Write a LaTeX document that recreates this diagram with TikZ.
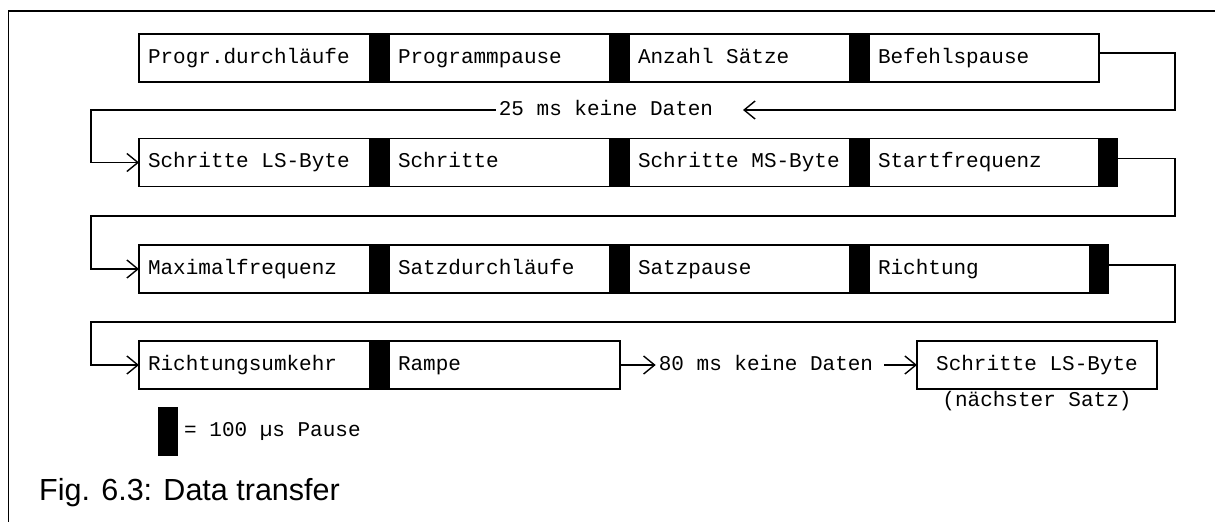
\documentclass[tikz,border=0pt]{standalone}
\usepackage{fontspec}
\setmainfont{Liberation Sans}
\newfontfamily\dotfont[WordSpace={1,0,0}]{Liberation Mono}
\usepackage{tikz}
\usetikzlibrary{arrows.meta, positioning}

\begin{document}
\begin{tikzpicture}[x=1pt, y=-1pt,
  cell/.style={rectangle, draw, line width=1.6pt, outer sep=0pt, inner xsep=9pt,
               minimum height=48pt, text width=#1, align=left,
               text height=14pt, text depth=4pt,
               execute at begin node={\spaceskip=0pt\xspaceskip=0pt},
               font=\dotfont\fontsize{21}{25}\selectfont},
  pause/.style={rectangle, fill=black, outer sep=0pt, inner sep=0pt,
                minimum width=19pt, minimum height=49.6pt},
  note/.style={inner sep=3pt, text height=14pt, text depth=4pt,
               font=\dotfont\fontsize{21}{25}\selectfont},
  link/.style={-{Straight Barb[length=11pt, width=18pt]}, line width=1.4pt}
]
\useasboundingbox (0,0) rectangle (1215,522);
% Frame
\draw[line width=1.5pt] (1215,11) -- (8.5,11) -- (8.5,522);

% Row 1
\node[cell=213pt, anchor=west] (a1) at (139,58) {Progr.durchläufe};
\node[pause, right=0pt of a1] (p1) {};
\node[cell=203pt, right=0pt of p1] (a2) {Programmpause};
\node[pause, right=0pt of a2] (p2) {};
\node[cell=203pt, right=0pt of p2] (a3) {Anzahl Sätze};
\node[pause, right=0pt of a3] (p3) {};
\node[cell=212pt, right=0pt of p3] (a4) {Befehlspause};

% Row 2
\node[cell=213pt, anchor=west] (b1) at (139,162.5) {Schritte LS-Byte};
\node[pause, right=0pt of b1] (q1) {};
\node[cell=203pt, right=0pt of q1] (b2) {Schritte};
\node[pause, right=0pt of b2] (q2) {};
\node[cell=203pt, right=0pt of q2] (b3) {Schritte MS-Byte};
\node[pause, right=0pt of b3] (q3) {};
\node[cell=212pt, right=0pt of q3] (b4) {Startfrequenz};
\node[pause, right=0pt of b4] (q4) {};

% Row 3
\node[cell=213pt, anchor=west] (c1) at (139,269) {Maximalfrequenz};
\node[pause, right=0pt of c1] (r1) {};
\node[cell=203pt, right=0pt of r1] (c2) {Satzdurchläufe};
\node[pause, right=0pt of c2] (r2) {};
\node[cell=203pt, right=0pt of r2] (c3) {Satzpause};
\node[pause, right=0pt of c3] (r3) {};
\node[cell=203pt, right=0pt of r3] (c4) {Richtung};
\node[pause, right=0pt of c4] (r4) {};

% Row 4
\node[cell=213pt, anchor=west] (d1) at (139,365) {Richtungsumkehr};
\node[pause, right=0pt of d1] (s1) {};
\node[cell=213pt, right=0pt of s1] (d2) {Rampe};
\node[note] (gap2) at (766,365) {80 ms keine Daten};
\node[cell=222pt, align=center, anchor=west] (next) at (917,365) {Schritte LS-Byte};
\node[note, below=0pt of next] (nextnote) {(nächster Satz)};

% Turns of the wiring
\node[note] (gap1) at (606,110) {25 ms keine Daten};
\coordinate (tip1) at (743,110);
\coordinate (turn1) at (1175,110);
\coordinate (turn3) at (1175,216);
\coordinate (turn4) at (1175,322);

\draw[link] ([yshift=5pt]a4.east) -| (turn1) -- (tip1);
\draw[link] (gap1.west) -| ([xshift=-48pt]b1.west) -- (b1.west);
\draw[link] ([yshift=4pt]q4.east) -| (turn3) -| ([xshift=-48pt]c1.west) -- (c1.west);
\draw[link] ([yshift=4pt]r4.east) -| (turn4) -| ([xshift=-48pt]d1.west) -- (d1.west);
\draw[link] (d2.east) -- (gap2.west);
\draw[link, shorten <=8pt] (gap2.east) -- (next.west);

% Legend
\node[pause, minimum width=20pt] (key) at (168,431.5) {};
\node[note, right=3pt of key] (keytext) {= 100 µs Pause};

% Caption
\node[anchor=base west, inner sep=0pt, font=\fontsize{30.5}{35}\selectfont] (caption) at (39,500) {Fig. 6.3: Data transfer};
\end{tikzpicture}
\end{document}
